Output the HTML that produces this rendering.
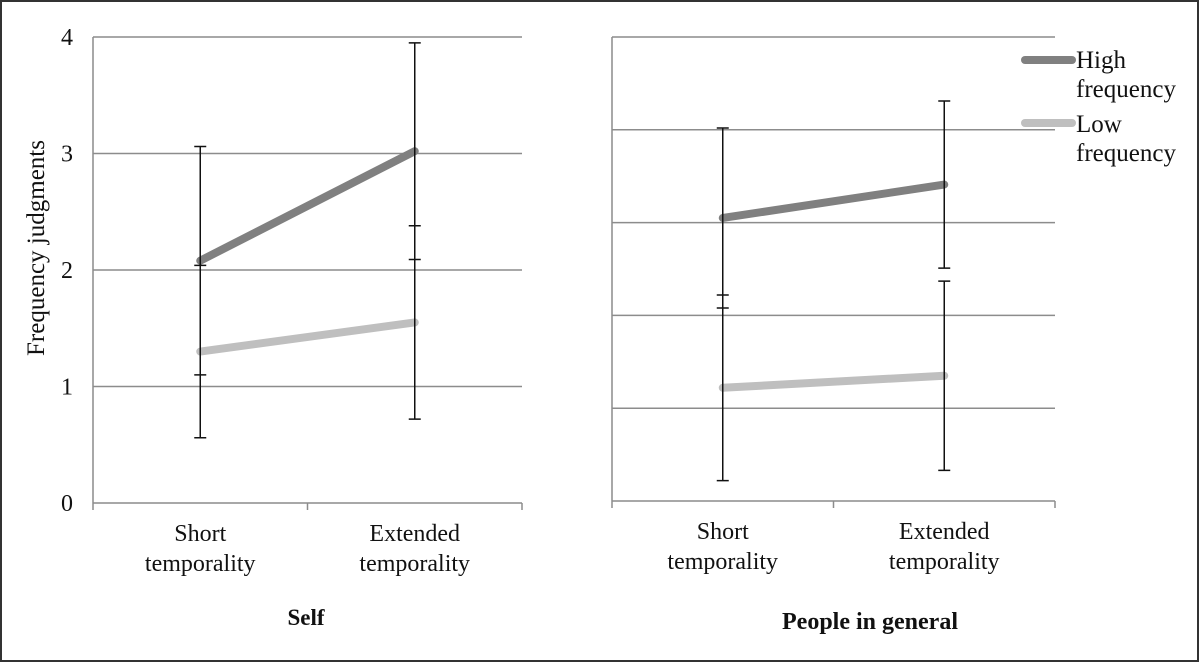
<!DOCTYPE html>
<html><head><meta charset="utf-8"><style>
html,body{margin:0;padding:0;background:#fff}
svg{display:block}
text{font-family:"Liberation Serif",serif;fill:#111}
</style></head><body>
<svg id="chart" width="1200" height="663" viewBox="0 0 1200 663">
<rect x="1" y="1" width="1197" height="660" fill="#fff" stroke="#333" stroke-width="2"/>
<text x="0" y="0" font-size="25" text-anchor="middle" transform="translate(44,248) rotate(-90)">Frequency judgments</text>
<text x="306" y="625" font-size="23" font-weight="bold" text-anchor="middle">Self</text>
<text x="870" y="629" font-size="24" font-weight="bold" text-anchor="middle">People in general</text>
<g id="left"></g>
<g id="right"></g>
<g>
<line x1="1025" y1="60" x2="1072" y2="60" stroke="#808080" stroke-width="8" stroke-linecap="round"/>
<text x="1076" y="68" font-size="25">High</text>
<text x="1076" y="97" font-size="25">frequency</text>
<line x1="1025" y1="123" x2="1072" y2="123" stroke="#bfbfbf" stroke-width="8" stroke-linecap="round"/>
<text x="1076" y="132" font-size="25">Low</text>
<text x="1076" y="161" font-size="25">frequency</text>
</g>
</svg>
<script>
const categories = ["Short temporality", "Extended temporality"];
const selfHigh = [2.08, 3.02];
const selfHighErr = [0.98, 0.93];
const selfLow = [1.30, 1.55];
const selfLowErr = [0.74, 0.83];
const peopleHigh = [3.05, 3.41];
const peopleHighErr = [0.97, 0.90];
const peopleLow = [1.22, 1.35];
const peopleLowErr = [1.00, 1.02];
const selfTicks = ["0","1","2","3","4"];
const NS = "http://www.w3.org/2000/svg";
function mk(parent, tag, attrs){const e=document.createElementNS(NS,tag);for(const k in attrs)e.setAttribute(k,attrs[k]);parent.appendChild(e);return e;}
function panel(g, x0, x1, y0, yTop, maxV, nGrid, showLabels, high, highErr, low, lowErr){
  const yS = v => y0 - (y0 - yTop) * v / maxV;
  const bw = (x1 - x0) / categories.length;
  const xS = i => x0 + bw * (i + 0.5);
  for(let k=1;k<=nGrid;k++){
    const v = maxV*k/nGrid;
    const l = mk(g,"line",{x1:x0,x2:x1,y1:yS(v),y2:yS(v),stroke:"#8c8c8c","stroke-width":1.5});
    
    
  }
  const ax = mk(g,"line",{x1:x0,x2:x0,y1:yTop,y2:y0,stroke:"#8c8c8c","stroke-width":1.5});
  
  
  const bx = mk(g,"line",{x1:x0,x2:x1,y1:y0,y2:y0,stroke:"#8c8c8c","stroke-width":1.5});
  
  
  for(let i=0;i<=categories.length;i++){
    const t = mk(g,"line",{x1:x0+bw*i,x2:x0+bw*i,y1:y0,y2:y0+7,stroke:"#8c8c8c","stroke-width":1.5});
    
    
  }
  if(showLabels){
    selfTicks.forEach((s,k)=>{
      const t = mk(g,"text",{x:x0-20,y:yS(k)+8,"font-size":24,"text-anchor":"end"});
      t.textContent=s;
      
      
    });
  }
  categories.forEach((c,i)=>{
    const parts = c.split(" ");
    parts.forEach((p,j)=>{
      const t = mk(g,"text",{x:xS(i),y:y0+38+j*30,"font-size":24,"text-anchor":"middle"});
      t.textContent=p;
      
      
    });
  });
  const series=[[high,highErr,"#808080","high"],[low,lowErr,"#bfbfbf","low"]];
  series.forEach(([vals,err,col,nm])=>{
    const pl = mk(g,"polyline",{points:vals.map((v,i)=>xS(i)+","+yS(v)).join(" "),fill:"none",stroke:col,"stroke-width":8,"stroke-linecap":"round"});
    
    
  });
  series.forEach(([vals,err,col,nm])=>{
    vals.forEach((v,i)=>{
      const x=xS(i), a=yS(v+err[i]), b=yS(v-err[i]);
      const e = mk(g,"path",{d:`M${x},${a}V${b}M${x-6},${a}H${x+6}M${x-6},${b}H${x+6}`,stroke:"#111","stroke-width":1.5,fill:"none"});
      
      
    });
  });
}
panel(document.getElementById("left"), 93, 522, 503, 37, 4, 4, true, selfHigh, selfHighErr, selfLow, selfLowErr);
panel(document.getElementById("right"), 612, 1055, 501, 37, 5, 5, false, peopleHigh, peopleHighErr, peopleLow, peopleLowErr);
</script>
</body></html>
